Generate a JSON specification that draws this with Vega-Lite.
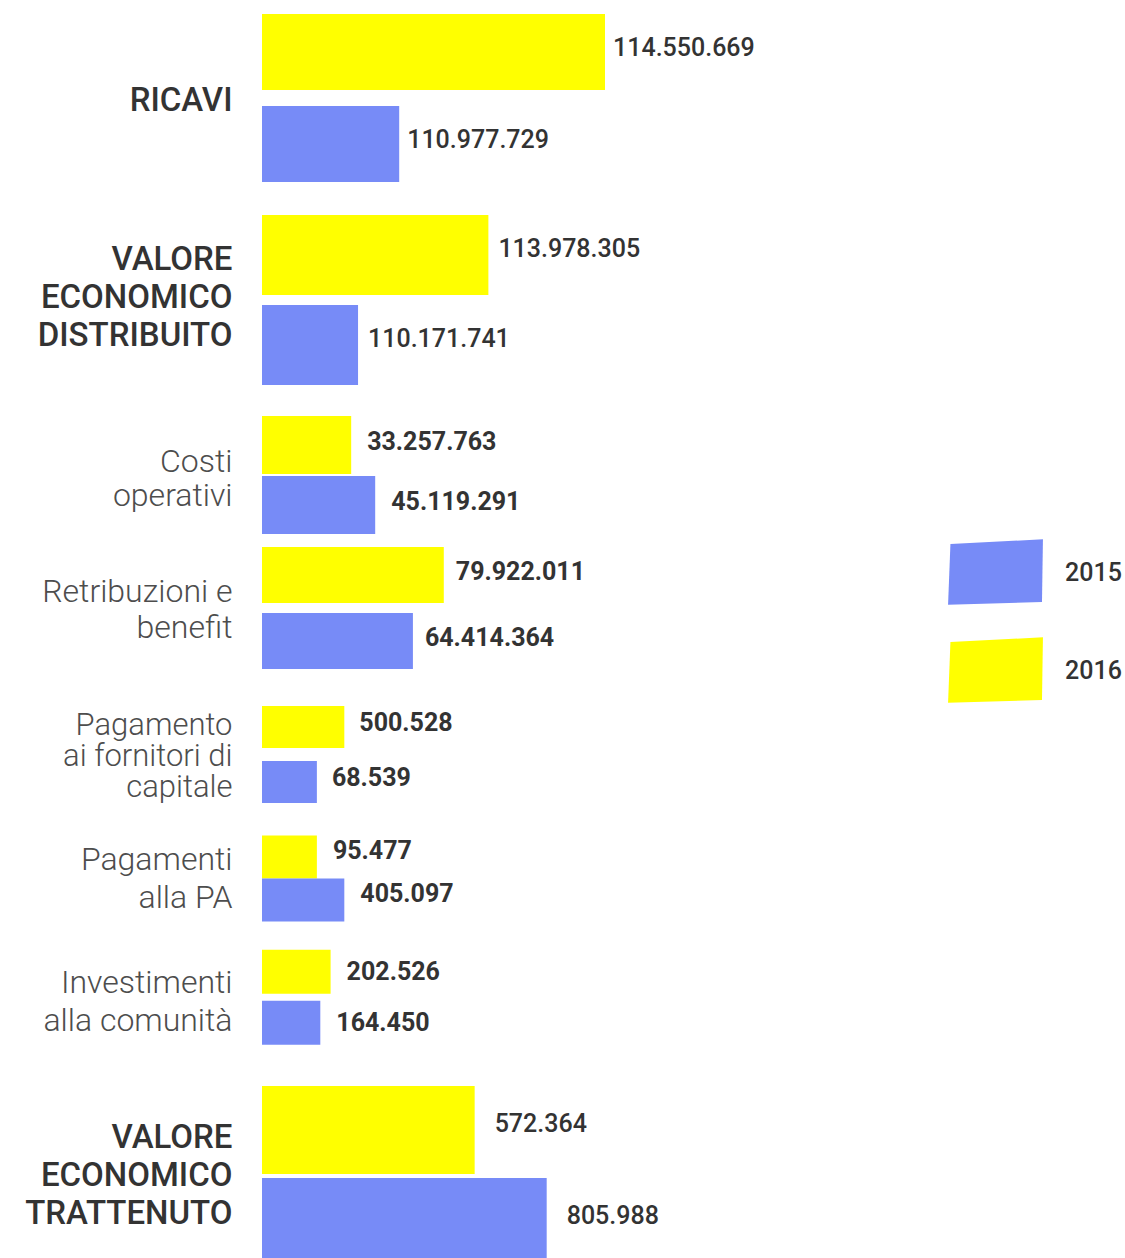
{
  "$schema": "https://vega.github.io/schema/vega-lite/v6.json",
  "background": "white",
  "padding": {"left": 24, "top": 0, "right": 0, "bottom": 0},
  "bounds": "flush",
  "spacing": 0,
  "resolve": {"scale": {"yOffset": "independent", "y": "independent"}},
  "data": {"values": [
    {"group": "RICAVI", "year": "2016", "value": 114550669, "label": "114.550.669", "drawn": 100},
    {"group": "RICAVI", "year": "2015", "value": 110977729, "label": "110.977.729", "drawn": 40},
    {"group": "VALORE|ECONOMICO|DISTRIBUITO", "year": "2016", "value": 113978305, "label": "113.978.305", "drawn": 66},
    {"group": "VALORE|ECONOMICO|DISTRIBUITO", "year": "2015", "value": 110171741, "label": "110.171.741", "drawn": 28},
    {"group": "Costi|operativi", "year": "2016", "value": 33257763, "label": "33.257.763", "drawn": 26},
    {"group": "Costi|operativi", "year": "2015", "value": 45119291, "label": "45.119.291", "drawn": 33},
    {"group": "Retribuzioni e|benefit", "year": "2016", "value": 79922011, "label": "79.922.011", "drawn": 53},
    {"group": "Retribuzioni e|benefit", "year": "2015", "value": 64414364, "label": "64.414.364", "drawn": 44},
    {"group": "Pagamento|ai fornitori di|capitale", "year": "2016", "value": 500528, "label": "500.528", "drawn": 24},
    {"group": "Pagamento|ai fornitori di|capitale", "year": "2015", "value": 68539, "label": "68.539", "drawn": 16},
    {"group": "Pagamenti|alla PA", "year": "2016", "value": 95477, "label": "95.477", "drawn": 16},
    {"group": "Pagamenti|alla PA", "year": "2015", "value": 405097, "label": "405.097", "drawn": 24},
    {"group": "Investimenti|alla comunità", "year": "2016", "value": 202526, "label": "202.526", "drawn": 20},
    {"group": "Investimenti|alla comunità", "year": "2015", "value": 164450, "label": "164.450", "drawn": 17},
    {"group": "VALORE|ECONOMICO|TRATTENUTO", "year": "2016", "value": 572364, "label": "572.364", "drawn": 62},
    {"group": "VALORE|ECONOMICO|TRATTENUTO", "year": "2015", "value": 805988, "label": "805.988", "drawn": 83}
  ]},
  "vconcat": [
    {
      "width": 343, "height": 198,
      "transform": [{"filter": "datum.group == 'RICAVI'"}],
      "encoding": {
        "y": {"field": "group", "type": "nominal", "title": null, "scale": {"paddingInner": 0, "paddingOuter": 0},
              "axis": {"labelExpr": "split(datum.label, '|')", "labelFontSize": 33, "labelFontWeight": 500, "labelColor": "#333333", "labelLineHeight": 38, "labelOffset": 2}},
        "yOffset": {"field": "year", "type": "nominal", "sort": ["2016", "2015"], "scale": {"paddingInner": 0.174, "paddingOuter": 0.163, "align": 0.467}},
        "x": {"field": "drawn", "type": "quantitative", "scale": {"domain": [0, 100]}, "axis": null}
      },
      "layer": [
        {"mark": {"type": "bar"}, "encoding": {"color": {"field": "year", "type": "nominal", "scale": {"domain": ["2015", "2016"], "range": ["#778BF7", "#FFFF00"]}, "legend": {"title": null}}}},
        {"mark": {"type": "text", "align": "left", "baseline": "middle", "dx": 8, "dy": -4, "font": "Roboto", "fontSize": 25, "fontWeight": 500, "fill": "#333333"}, "encoding": {"text": {"field": "label"}}}
      ]
    },
    {
      "width": 343, "height": 202,
      "transform": [{"filter": "datum.group == 'VALORE|ECONOMICO|DISTRIBUITO'"}],
      "encoding": {
        "y": {"field": "group", "type": "nominal", "title": null, "scale": {"paddingInner": 0, "paddingOuter": 0},
              "axis": {"labelExpr": "split(datum.label, '|')", "labelFontSize": 33, "labelFontWeight": 500, "labelColor": "#333333", "labelLineHeight": 38, "labelOffset": -39}},
        "yOffset": {"field": "year", "type": "nominal", "sort": ["2016", "2015"], "scale": {"paddingInner": 0.111, "paddingOuter": 0.178, "align": 0.53}},
        "x": {"field": "drawn", "type": "quantitative", "scale": {"domain": [0, 100]}, "axis": null}
      },
      "layer": [
        {"mark": {"type": "bar"}, "encoding": {"color": {"field": "year", "type": "nominal"}}},
        {"mark": {"type": "text", "align": "left", "baseline": "middle", "dx": 10, "dy": -6, "font": "Roboto", "fontSize": 25, "fontWeight": 500, "fill": "#333333"}, "encoding": {"text": {"field": "label"}}}
      ]
    },
    {
      "width": 343, "height": 140,
      "transform": [{"filter": "datum.group == 'Costi|operativi'"}],
      "encoding": {
        "y": {"field": "group", "type": "nominal", "title": null, "scale": {"paddingInner": 0, "paddingOuter": 0},
              "axis": {"labelExpr": "split(datum.label, '|')", "labelFontSize": 32, "labelFontWeight": 300, "labelColor": "#4d4d4d", "labelLineHeight": 34, "labelOffset": -8}},
        "yOffset": {"field": "year", "type": "nominal", "sort": ["2016", "2015"], "scale": {"paddingInner": 0.033, "paddingOuter": 0.183, "align": 0.727}},
        "x": {"field": "drawn", "type": "quantitative", "scale": {"domain": [0, 100]}, "axis": null}
      },
      "layer": [
        {"mark": {"type": "bar"}, "encoding": {"color": {"field": "year", "type": "nominal"}}},
        {"mark": {"type": "text", "align": "left", "baseline": "middle", "dx": 16, "dy": -3, "font": "Roboto", "fontSize": 25, "fontWeight": "bold", "fill": "#333333"}, "encoding": {"text": {"field": "label"}}}
      ]
    },
    {
      "width": 343, "height": 148,
      "transform": [{"filter": "datum.group == 'Retribuzioni e|benefit'"}],
      "encoding": {
        "y": {"field": "group", "type": "nominal", "title": null, "scale": {"paddingInner": 0, "paddingOuter": 0},
              "axis": {"labelExpr": "split(datum.label, '|')", "labelFontSize": 32, "labelFontWeight": 300, "labelColor": "#4d4d4d", "labelLineHeight": 36, "labelOffset": -22}},
        "yOffset": {"field": "year", "type": "nominal", "sort": ["2016", "2015"], "scale": {"paddingInner": 0.152, "paddingOuter": 0.197, "align": 0.27}},
        "x": {"field": "drawn", "type": "quantitative", "scale": {"domain": [0, 100]}, "axis": null}
      },
      "layer": [
        {"mark": {"type": "bar"}, "encoding": {"color": {"field": "year", "type": "nominal"}}},
        {"mark": {"type": "text", "align": "left", "baseline": "middle", "dx": 12, "dy": -3, "font": "Roboto", "fontSize": 25, "fontWeight": "bold", "fill": "#333333"}, "encoding": {"text": {"field": "label"}}}
      ]
    },
    {
      "width": 343, "height": 131,
      "transform": [{"filter": "datum.group == 'Pagamento|ai fornitori di|capitale'"}],
      "encoding": {
        "y": {"field": "group", "type": "nominal", "title": null, "scale": {"paddingInner": 0, "paddingOuter": 0},
              "axis": {"labelExpr": "split(datum.label, '|')", "labelFontSize": 31, "labelFontWeight": 300, "labelColor": "#4d4d4d", "labelLineHeight": 31, "labelOffset": -28}},
        "yOffset": {"field": "year", "type": "nominal", "sort": ["2016", "2015"], "scale": {"paddingInner": 0.236, "paddingOuter": 0.309, "align": 0.53}},
        "x": {"field": "drawn", "type": "quantitative", "scale": {"domain": [0, 100]}, "axis": null}
      },
      "layer": [
        {"mark": {"type": "bar"}, "encoding": {"color": {"field": "year", "type": "nominal"}}},
        {"mark": {"type": "text", "align": "left", "baseline": "middle", "dx": 15, "dy": -4, "font": "Roboto", "fontSize": 25, "fontWeight": "bold", "fill": "#333333"}, "encoding": {"text": {"field": "label"}}}
      ]
    },
    {
      "width": 343, "height": 117,
      "transform": [{"filter": "datum.group == 'Pagamenti|alla PA'"}],
      "encoding": {
        "y": {"field": "group", "type": "nominal", "title": null, "scale": {"paddingInner": 0, "paddingOuter": 0},
              "axis": {"labelExpr": "split(datum.label, '|')", "labelFontSize": 32, "labelFontWeight": 300, "labelColor": "#4d4d4d", "labelLineHeight": 38, "labelOffset": -18}},
        "yOffset": {"field": "year", "type": "nominal", "sort": ["2016", "2015"], "scale": {"paddingInner": 0, "paddingOuter": 0.36, "align": 0.53}},
        "x": {"field": "drawn", "type": "quantitative", "scale": {"domain": [0, 100]}, "axis": null}
      },
      "layer": [
        {"mark": {"type": "bar"}, "encoding": {"color": {"field": "year", "type": "nominal"}}},
        {"mark": {"type": "text", "align": "left", "baseline": "middle", "dx": 16, "dy": -6, "font": "Roboto", "fontSize": 25, "fontWeight": "bold", "fill": "#333333"}, "encoding": {"text": {"field": "label"}}}
      ]
    },
    {
      "width": 343, "height": 128,
      "transform": [{"filter": "datum.group == 'Investimenti|alla comunità'"}],
      "encoding": {
        "y": {"field": "group", "type": "nominal", "title": null, "scale": {"paddingInner": 0, "paddingOuter": 0},
              "axis": {"labelExpr": "split(datum.label, '|')", "labelFontSize": 32, "labelFontWeight": 300, "labelColor": "#4d4d4d", "labelLineHeight": 38, "labelOffset": -17}},
        "yOffset": {"field": "year", "type": "nominal", "sort": ["2016", "2015"], "scale": {"paddingInner": 0.137, "paddingOuter": 0.324, "align": 0.42}},
        "x": {"field": "drawn", "type": "quantitative", "scale": {"domain": [0, 100]}, "axis": null}
      },
      "layer": [
        {"mark": {"type": "bar"}, "encoding": {"color": {"field": "year", "type": "nominal"}}},
        {"mark": {"type": "text", "align": "left", "baseline": "middle", "dx": 16, "dy": 0, "font": "Roboto", "fontSize": 25, "fontWeight": "bold", "fill": "#333333"}, "encoding": {"text": {"field": "label"}}}
      ]
    },
    {
      "width": 343, "height": 206,
      "transform": [{"filter": "datum.group == 'VALORE|ECONOMICO|TRATTENUTO'"}],
      "encoding": {
        "y": {"field": "group", "type": "nominal", "title": null, "scale": {"paddingInner": 0, "paddingOuter": 0},
              "axis": {"labelExpr": "split(datum.label, '|')", "labelFontSize": 33, "labelFontWeight": 500, "labelColor": "#333333", "labelLineHeight": 38, "labelOffset": -29}},
        "yOffset": {"field": "year", "type": "nominal", "sort": ["2016", "2015"], "scale": {"paddingInner": 0.043, "paddingOuter": 0.141, "align": 0.85}},
        "x": {"field": "drawn", "type": "quantitative", "scale": {"domain": [0, 100]}, "axis": null}
      },
      "layer": [
        {"mark": {"type": "bar"}, "encoding": {"color": {"field": "year", "type": "nominal"}}},
        {"mark": {"type": "text", "align": "left", "baseline": "middle", "dx": 20, "dy": -6, "font": "Roboto", "fontSize": 25, "fontWeight": 500, "fill": "#333333"}, "encoding": {"text": {"field": "label"}}}
      ]
    }
  ],
  "config": {
    "view": {"stroke": null},
    "axis": {"domain": false, "ticks": false, "grid": false, "labelPadding": 30, "labelFont": "Roboto", "labelLimit": 0, "labelAlign": "right", "labelBaseline": "middle"},
    "legend": {
      "orient": "none", "legendX": 686, "legendY": 525,
      "symbolType": "M-0.95,-0.6L1,-0.7L0.98,0.62L-1,0.68Z",
      "symbolSize": 9000, "symbolStrokeWidth": 0, "symbolOpacity": 1,
      "labelFont": "Roboto", "labelFontSize": 25, "labelFontWeight": 500, "labelColor": "#333333",
      "labelOffset": 22, "rowPadding": 18
    }
  }
}
